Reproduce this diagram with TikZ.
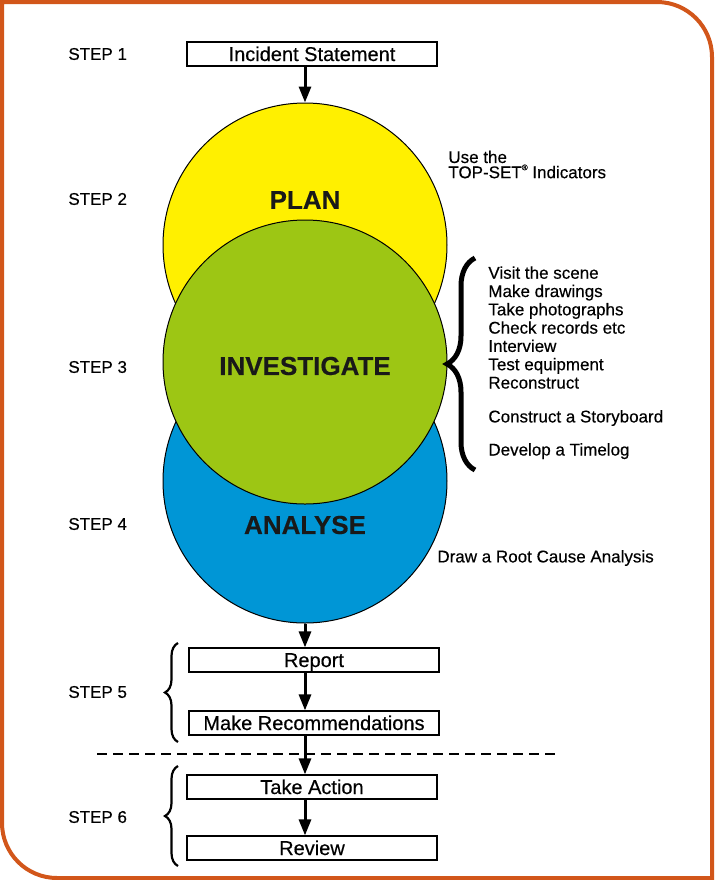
\documentclass[tikz,border=0pt]{standalone}
\usepackage{fontspec}
\setmainfont[FakeBold=0.35]{Liberation Sans}
\usetikzlibrary{arrows.meta,decorations.pathreplacing}
\definecolor{planyellow}{RGB}{255,240,0}
\definecolor{investgreen}{RGB}{157,198,20}
\definecolor{analyseblue}{RGB}{0,150,214}
\definecolor{frameorange}{RGB}{210,86,26}

\begin{document}
\begin{tikzpicture}[x=0.5pt,y=-0.5pt,
    stepbox/.style={draw, line width=0.6pt, minimum width=125pt, minimum height=12pt, inner sep=0pt, text height=7pt, text depth=0pt, font=\fontsize{10}{12}\selectfont},
    steplabel/.style={anchor=west, inner sep=0pt, font=\fontsize{8.5}{10}\selectfont},
    phase/.style={circle, draw, line width=0.5pt, minimum size=142pt, inner sep=0pt},
    phasetext/.style={font=\fontsize{13}{15}\bfseries\selectfont, text=black!90},
    note/.style={anchor=west, inner sep=0pt, align=left, font=\fontsize{8.5}{9.15}\selectfont},
    flow/.style={line width=1.5pt, -{Triangle[width=6pt,length=8pt]}},
    bigbrace/.style={decorate, decoration={brace, amplitude=#1}},
]
                \useasboundingbox (0,0) rectangle (714,880);
                % frame
                \draw[frameorange, line width=2pt] (2,2) -- (657,2)
                    .. controls (687.4,2) and (712,26.6) .. (712,57) -- (712,878) -- (57,878)
                    .. controls (26.6,878) and (2,853.4) .. (2,823) -- cycle;

                % step labels
                \node[steplabel] (step1) at (68,54) {STEP 1};
                \node[steplabel] (step2) at (68,199) {STEP 2};
                \node[steplabel] (step3) at (68,367) {STEP 3};
                \node[steplabel] (step4) at (68,524) {STEP 4};
                \node[steplabel] (step5) at (68,692) {STEP 5};
                \node[steplabel] (step6) at (68,817) {STEP 6};

                \node[stepbox] (incident) at (312,54) {Incident Statement};

                % the three phases
                \node[phase, fill=planyellow] (plan) at (305,245) {};
                \node[phase, fill=analyseblue] (analyse) at (305,481) {};
                \node[phase, fill=investgreen] (investigate) at (305,362) {};
                \node[phasetext] (plantext) at (305,200) {PLAN};
                \node[phasetext] (investtext) at (305,366) {INVESTIGATE};
                \node[phasetext] (analysetext) at (305,525) {ANALYSE};

                \node[stepbox] (report) at (314,660) {Report};
                \node[stepbox] (recommend) at (314,723) {Make Recommendations};
                \node[stepbox] (action) at (312,787) {Take Action};
                \node[stepbox] (review) at (312,848) {Review};

                \draw[flow] (incident.south -| plan.north) -- (plan.north);
                \draw[flow] (analyse.south) -- (report.north -| analyse.south);
                \draw[flow] (report.south -| analyse.south) -- (recommend.north -| analyse.south);
                \draw[flow] (recommend.south -| analyse.south) -- (action.north -| analyse.south);
                \draw[flow] (action.south -| analyse.south) -- (review.north -| analyse.south);

                % notes on the right
                \node[note, font=\fontsize{8.5}{7.6}\selectfont] (topset) at (448,164.5)
                    {Use the\\TOP-SET\raisebox{4pt}{\fontsize{4}{4}\selectfont ®} Indicators};
                \node[note, anchor=north west] (tasks) at (488,266)
                    {Visit the scene\\Make drawings\\Take photographs\\Check records etc\\
                     Interview\\Test equipment\\Reconstruct\\[7.8pt]
                     Construct a Storyboard\\[7.4pt]Develop a Timelog};
                \node[note] (rootcause) at (437,558) {Draw a Root Cause Analysis};

                % braces
                \draw[bigbrace=14pt, line width=2.5pt] (475,470) -- (475,258);
                \draw[bigbrace=6.5pt, line width=1.1pt] (178,742) -- (178,643);
                \draw[bigbrace=6.5pt, line width=1.1pt] (178,866) -- (178,766);

                % split between step 5 and step 6
                \coordinate (splitL) at (97,754);
                \coordinate (splitR) at (560,754);
                \draw[line width=0.8pt, dash pattern=on 5pt off 3pt] (splitL) -- (splitR);
\end{tikzpicture}
\end{document}
